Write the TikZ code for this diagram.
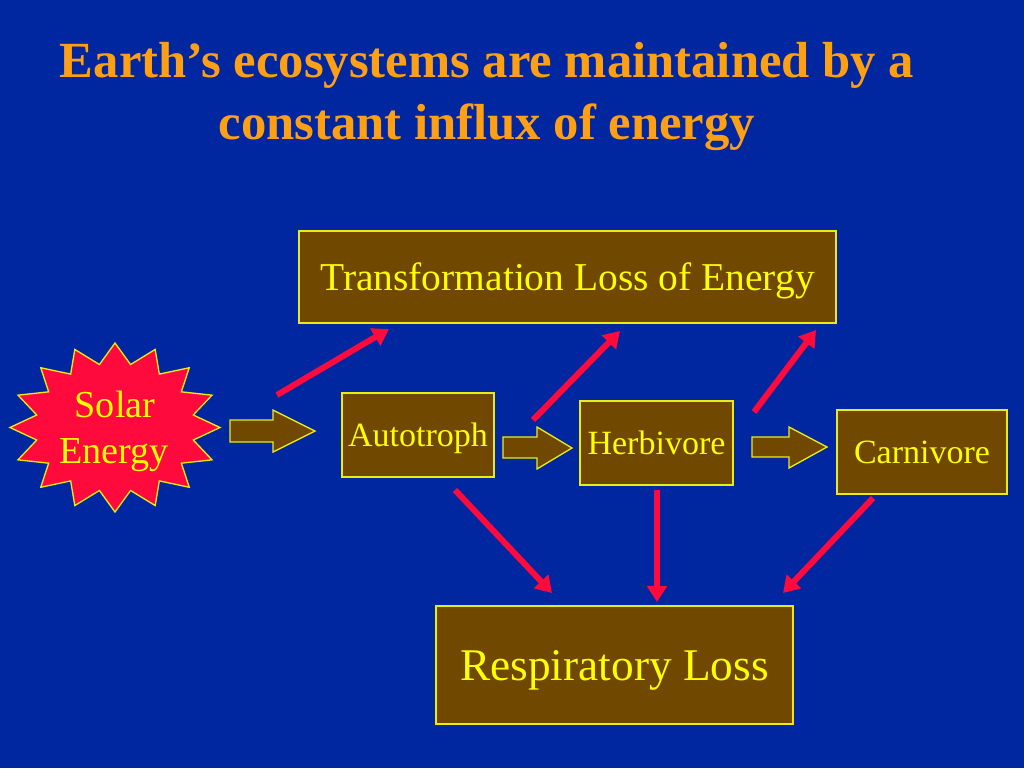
\documentclass[tikz,border=0pt]{standalone}
\usepackage{fontspec}
\setmainfont{Liberation Serif}
\usetikzlibrary{arrows.meta}
\definecolor{bg}{RGB}{0,38,160}
\definecolor{boxbrown}{RGB}{112,72,0}
\definecolor{titleorange}{RGB}{255,160,20}
\definecolor{txtyellow}{RGB}{255,255,0}
\definecolor{lineyellow}{RGB}{235,235,20}
\definecolor{redarrow}{RGB}{255,10,60}
\tikzset{
  box/.style={draw=lineyellow, line width=1pt, fill=boxbrown, text=txtyellow,
    inner sep=0pt, text depth=0pt},
  smallbox/.style={box, font=\fontsize{25.5}{30}\selectfont, text height=16.9pt,
    minimum height=63pt},
  blockarrow/.style={draw=lineyellow, line width=1pt, fill=boxbrown, line join=miter},
  redarr/.style={draw=redarrow, line width=4.5pt, -{Triangle[length=12pt,width=14.5pt]}},
  titletxt/.style={text=titleorange, font=\fontsize{38}{47}\selectfont\bfseries, anchor=base, inner sep=0pt},
  startxt/.style={text=txtyellow, font=\fontsize{28.6}{34}\selectfont, anchor=base, inner sep=0pt}
}
\begin{document}
\begin{tikzpicture}[x=0.75pt,y=-0.75pt]
\fill[bg] (0,0) rectangle (1024,768);
\useasboundingbox (0,0) rectangle (1024,768);

% title
\node[titletxt] (t1) at (487,77) {Earth’s ecosystems are maintained by a};
\node[titletxt] (t2) at (487,139) {constant influx of energy};

% star
\draw[fill=redarrow, draw=lineyellow, line width=1pt, line join=miter]
  plot[samples at={0,...,31}, variable=\i]
  ({115+105*(1-0.24*mod(\i,2))*cos(90-\i*11.25)},
   {427.5-84.5*(1-0.24*mod(\i,2))*sin(90-\i*11.25)}) -- cycle;
\node[startxt] (sol1) at (115,417) {Solar};
\node[startxt] (sol2) at (114,463) {Energy};

% boxes
\node[box, font=\fontsize{29.6}{34}\selectfont, text height=19.6pt,
      minimum width=402.75pt, minimum height=69pt] (T) at (567.5,277) {Transformation Loss of Energy};
\node[smallbox, minimum width=114pt] (A) at (418,435) {Autotroph};
\node[smallbox, minimum width=114.75pt] (H) at (656.5,443) {Herbivore};
\node[smallbox, minimum width=127.5pt] (C) at (922,452) {Carnivore};
\node[box, font=\fontsize{34}{40}\selectfont, text height=22.5pt,
      minimum width=267.75pt, minimum height=88.5pt] (R) at (614.5,665) {Respiratory Loss};

% block arrows
\draw[blockarrow] (230,420) -- (273,420) -- (273,410) -- (315,431) -- (273,452) -- (273,442) -- (230,442) -- cycle;
\draw[blockarrow] (503,437) -- (537,437) -- (537,427) -- (572,448) -- (537,469) -- (537,458) -- (503,458) -- cycle;
\draw[blockarrow] (752,437) -- (789,437) -- (789,427) -- (827,447) -- (789,468) -- (789,457) -- (752,457) -- cycle;

% red arrow end points
\coordinate (r1s) at (277,395); \coordinate (r1e) at (389,329);
\coordinate (r2s) at (533,420); \coordinate (r2e) at (620,331);
\coordinate (r3s) at (754,412); \coordinate (r3e) at (816,330);
\coordinate (r4s) at (455,490); \coordinate (r4e) at (552,593);
\coordinate (r5s) at (657,490); \coordinate (r5e) at (657,602);
\coordinate (r6s) at (873,498); \coordinate (r6e) at (783,593);
\foreach \k in {1,...,6} {\draw[redarr] (r\k s) -- (r\k e);}
\end{tikzpicture}
\end{document}
